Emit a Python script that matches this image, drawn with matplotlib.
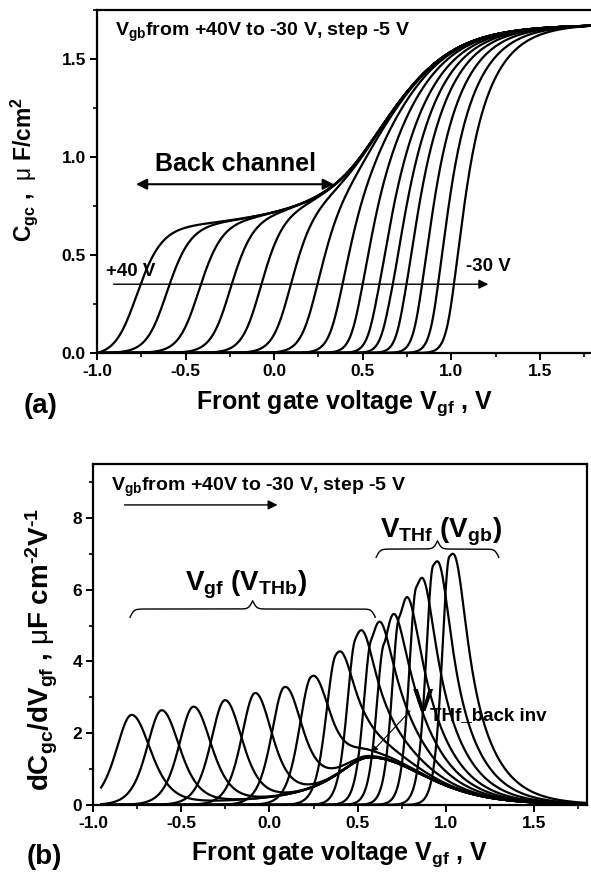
import numpy as np
import matplotlib
matplotlib.use('Agg')
import matplotlib.pyplot as plt
from matplotlib.ticker import MultipleLocator, FormatStrFormatter

plt.rcParams['font.family'] = ['Liberation Sans', 'DejaVu Sans']
plt.rcParams['font.weight'] = 'bold'
plt.rcParams['axes.labelweight'] = 'bold'
plt.rcParams['mathtext.fontset'] = 'custom'
plt.rcParams['mathtext.rm'] = 'Liberation Sans:bold'
plt.rcParams['mathtext.it'] = 'Liberation Sans:bold'
plt.rcParams['mathtext.bf'] = 'Liberation Sans:bold'
plt.rcParams['mathtext.sf'] = 'Liberation Sans:weight=normal'
plt.rcParams['axes.unicode_minus'] = False

# back gate bias, +40 V ... -30 V, step -5 V (one curve each)
vgb = [40, 35, 30, 25, 20, 15, 10, 5, 0, -5, -10, -15, -20, -25, -30]
# peaks of dCgc/dVgf: position [V], height, width at half max [V]
peak_v = [-0.78, -0.61, -0.43, -0.25, -0.08, 0.09, 0.25, 0.40, 0.52, 0.625, 0.705, 0.78, 0.865, 0.95, 1.04]
peak_h = [2.51, 2.64, 2.74, 2.92, 3.12, 3.29, 3.60, 4.28, 4.87, 5.11, 5.32, 5.79, 6.33, 6.79, 7.0]
peak_fwhm = [0.24, 0.23, 0.22, 0.21, 0.20, 0.19, 0.18, 0.15, 0.13, 0.12, 0.115, 0.11, 0.11, 0.11, 0.11]

# common Cgc envelope: plateau, then hump at V_THf_back inv
env_end = 1.67       # Cgc at Vgf = 1.8 V
env_hump_v = 0.57
env_hump_h = 1.32
env_w_left = 0.25
env_w_right = 0.42
env_base = 0.01

vgf = np.linspace(-1.0, 1.8, 1401)


def cumint(y):
    return np.concatenate([[0.0], np.cumsum(0.5 * (y[1:] + y[:-1]) * np.diff(vgf))])


xe = vgf - env_hump_v
dE = env_base + np.where(xe < 0, env_hump_h / (1 + (xe / env_w_left) ** 2),
                         env_hump_h / np.cosh(xe / env_w_right) ** 2)
env = cumint(dE)
env += env_end - env[-1]


def shape(x, a, k, c=0.14):
    b = 1.2 * a
    left = 1 / np.cosh(np.minimum(np.abs(x) / a, 300)) ** 2
    right = (1 / np.cosh(np.minimum(np.abs(x) / b, 300)) ** 2
             + k * np.tanh(x / b) ** 2 * np.exp(-np.abs(x) / c))
    return np.where(x < 0, left, right)


C_curves = []
D_curves = []
for p, h, fw in zip(peak_v, peak_h, peak_fwhm):
    a0 = fw / 1.94
    pc = p
    T = np.interp(p, vgf, env) / h
    for _ in range(14):
        x = vgf - pc
        F0 = cumint(shape(x, a0, 0.0))[-1]
        Q = cumint(shape(x, a0, 1.0))[-1] - F0
        if T > F0:
            a, k = a0, (T - F0) / Q
        else:
            a, k = a0 * T / F0, 0.0
        S = cumint(shape(x, a, k))
        S /= S[-1]
        C = env * S
        D = np.gradient(C, vgf)
        T *= D.max() / h
        pc += p - vgf[np.argmax(D)]
    C_curves.append(C)
    D_curves.append(D)


def brace(ax, x0, x1, y, d, beta=90.0):
    xs = np.linspace(x0, x1, 401)
    xh = xs[:201]
    yh = 1 / (1 + np.exp(-beta * (xh - xh[0]))) + 1 / (1 + np.exp(-beta * (xh - xh[-1])))
    yy = np.concatenate([yh, yh[-2::-1]])
    ax.plot(xs, y + (yy - 1) * 2 * d, color='black', lw=1.0)


fig = plt.figure(figsize=(5.91, 8.74), dpi=100)
ax1 = fig.add_axes([97 / 591, 1 - 353 / 874, 496 / 591, 343 / 874])
ax2 = fig.add_axes([93 / 591, 1 - 805 / 874, 494 / 591, 341 / 874])

for C in C_curves:
    ax1.plot(vgf, C, color='black', lw=1.6)
m = vgf >= -0.955
for D in D_curves:
    ax2.plot(vgf[m], D[m], color='black', lw=1.6)

for ax in (ax1, ax2):
    for sp in ax.spines.values():
        sp.set_linewidth(1.6)
    ax.set_xlim(-1.0, 1.8)
    ax.xaxis.set_major_locator(MultipleLocator(0.5))
    ax.xaxis.set_minor_locator(MultipleLocator(0.25))
    ax.xaxis.set_major_formatter(FormatStrFormatter('%.1f'))
    ax.tick_params(which='major', direction='out', length=5, width=1.4, labelsize=12.5, pad=3)
    ax.tick_params(which='minor', direction='out', length=3, width=1.2)
    ax.set_xlabel(r'Front gate voltage V$_{gf}$ , V', fontsize=18)

ax1.set_ylim(0, 1.75)
ax1.yaxis.set_major_locator(MultipleLocator(0.5))
ax1.yaxis.set_minor_locator(MultipleLocator(0.25))
ax1.yaxis.set_major_formatter(FormatStrFormatter('%.1f'))
ax1.set_ylabel(r'C$_{gc}$ ,  $\mathsf{\mu}$ F/cm$^{2}$', fontsize=16.5)
ax1.yaxis.set_label_coords(-0.115, 0.536)
ax1.xaxis.set_label_coords(0.5, -0.102)

ax2.set_ylim(0, 9.5)
ax2.yaxis.set_major_locator(MultipleLocator(2))
ax2.yaxis.set_minor_locator(MultipleLocator(1))
ax2.yaxis.set_major_formatter(FormatStrFormatter('%d'))
ax2.set_ylabel(r'dC$_{gc}$/dV$_{gf}$ , $\mathsf{\mu}$F cm$^{\text{-2}}$V$^{\text{-1}}$', fontsize=20)
ax2.yaxis.set_label_coords(-0.067, 0.455)
ax2.xaxis.set_label_coords(0.5, -0.0997)

arrow_thin = dict(arrowstyle='-|>', color='black', lw=1.0, mutation_scale=14, shrinkA=0, shrinkB=0)

# panel (a) annotations
ax1.text(-0.9, 1.615, r'V$_{gb}$from +40V to -30 V, step -5 V', fontsize=14, va='baseline')
ax1.text(-0.673, 0.929, 'Back channel', fontsize=18, va='baseline')
ax1.annotate('', xy=(-0.78, 0.861), xytext=(0.337, 0.861),
             arrowprops=dict(arrowstyle='<|-|>', color='black', lw=1.5,
                             mutation_scale=16, shrinkA=0, shrinkB=0))
ax1.text(-0.949, 0.394, '+40 V', fontsize=13.5, va='baseline')
ax1.text(1.081, 0.419, '-30 V', fontsize=13.5, va='baseline')
ax1.annotate('', xy=(1.209, 0.351), xytext=(-0.906, 0.351), arrowprops=arrow_thin)

# panel (b) annotations
ax2.text(-0.897, 8.76, r'V$_{gb}$from +40V to -30 V, step -5 V', fontsize=14, va='baseline')
ax2.annotate('', xy=(0.046, 8.36), xytext=(-0.822, 8.36), arrowprops=arrow_thin)
ax2.text(0.625, 7.46, r'V$_{THf}$ (V$_{gb}$)', fontsize=20, va='baseline')
brace(ax2, 0.605, 1.30, 7.13, 0.23)
ax2.text(-0.479, 5.97, r'V$_{gf}$ (V$_{THb}$)', fontsize=20, va='baseline')
brace(ax2, -0.79, 0.60, 5.46, 0.23)
ax2.text(0.81, 2.62, 'V', fontsize=22, va='baseline')
ax2.text(0.912, 2.36, 'THf_back inv', fontsize=13.5, va='baseline')
ax2.annotate('', xy=(0.582, 1.48), xytext=(0.797, 2.62),
             arrowprops=dict(arrowstyle='-|>', color='black', lw=0.8,
                             mutation_scale=8, shrinkA=0, shrinkB=0))

fig.text(41 / 591, 1 - 406 / 874, '(a)', fontsize=20, ha='center', va='center')
fig.text(44 / 591, 1 - 857 / 874, '(b)', fontsize=20, ha='center', va='center')

fig.savefig('out.png', dpi=100)
